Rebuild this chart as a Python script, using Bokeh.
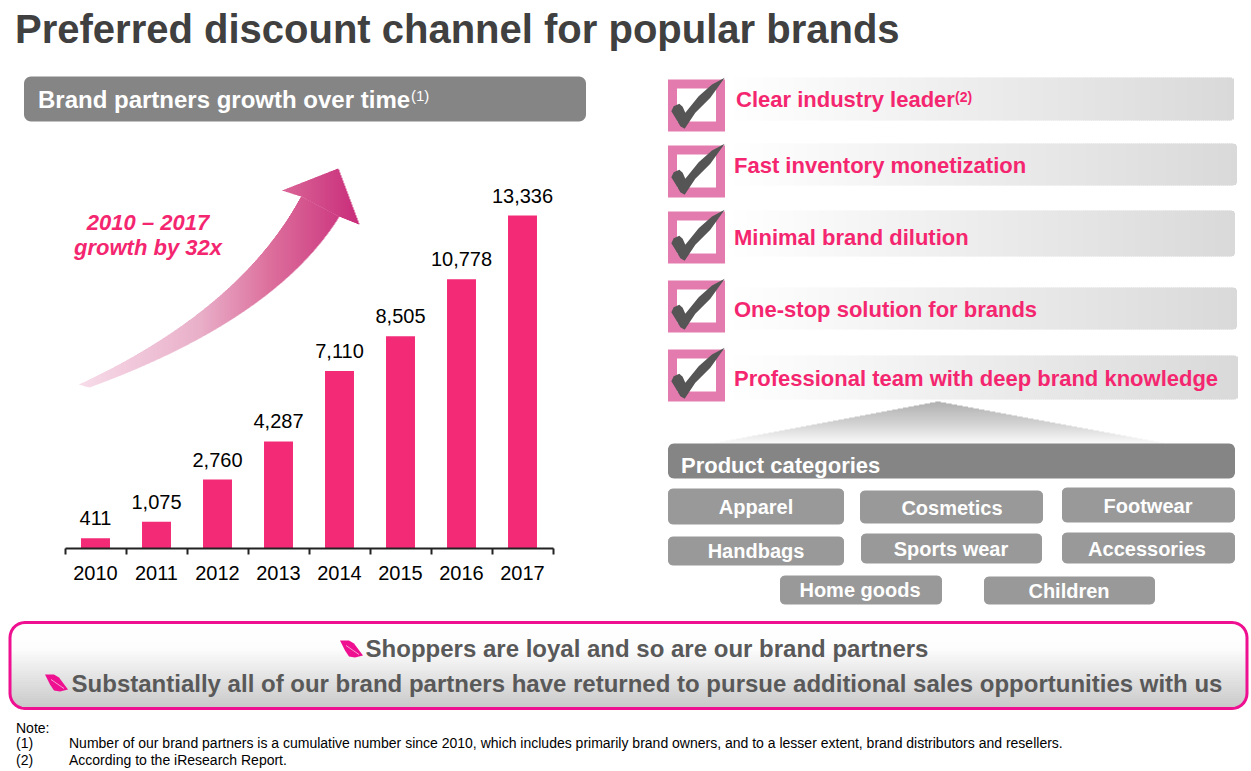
import numpy as np
from bokeh.plotting import figure
from bokeh.layouts import column, row
from bokeh.models import Range1d, LinearAxis, FixedTicker, ColumnDataSource
from bokeh.core.properties import value
from bokeh.embed import file_html
from bokeh.resources import INLINE

# ---- data ----
years = ["2010", "2011", "2012", "2013", "2014", "2015", "2016", "2017"]
partners = [411, 1075, 2760, 4287, 7110, 8505, 10778, 13336]
title_text = "Preferred discount channel for popular brands"
banner_text = "Brand partners growth over time"
growth_lines = ["2010 \u2013 2017", "growth by 32x"]
strengths = ["Clear industry leader", "Fast inventory monetization", "Minimal brand dilution",
             "One-stop solution for brands", "Professional team with deep brand knowledge"]
categories = ["Apparel", "Cosmetics", "Footwear", "Handbags", "Sports wear", "Accessories", "Home goods", "Children"]
callouts = ["Shoppers are loyal and so are our brand partners",
            "Substantially all of our brand partners have returned to pursue additional sales opportunities with us"]
note1 = "Number of our brand partners is a cumulative number since 2010, which includes primarily brand owners, and to a lesser extent, brand distributors and resellers."
note2 = "According to the iResearch Report."

FONT = "Liberation Sans"
PINK = "#F32B76"
TXT_PINK = "#F4266F"
GREY_D = "#858585"
GREY_B = "#999999"
MAG = "#EE1090"
OX, OY = 0.5, 1        # page coordinate at the figure's corner
PW, PH = 1251, 771


def make_fig(w, h, x0, x1, y0, y1, **kw):
    p = figure(width=w, height=h, x_range=Range1d(x0, x1), y_range=Range1d(y1, y0),
               toolbar_location=None, tools="", output_backend="svg",
               x_axis_location=None, y_axis_location=None, frame_align=False,
               min_border=0, min_border_left=0, min_border_right=0, min_border_top=0, min_border_bottom=0, **kw)
    p.outline_line_color = None
    p.grid.visible = False
    return p


def txt(p, x, y, s, size, color, style="normal", align="left", **kw):
    p.text([x], [y], text=[s], text_font=value(FONT), text_font_size=f"{size}px", text_font_style=style,
           text_color=color, text_align=align, text_baseline="middle", **kw)


def rgb(c):
    c = c.lstrip("#")
    return np.array([int(c[i:i + 2], 16) for i in (0, 2, 4)], float)


def ramp(t, stops):
    pos = [s[0] for s in stops]
    cols = np.array([rgb(s[1]) for s in stops])
    out = np.stack([np.interp(t, pos, cols[:, i]) for i in range(3)], axis=1)
    return ["#%02x%02x%02x" % tuple(int(round(v)) for v in c) for c in out]


def rr_pts(x0, y0, x1, y1, r):
    a = np.linspace(0, np.pi / 2, 8)
    xs = np.concatenate([x0 + r - r * np.cos(a), x1 - r + r * np.sin(a), x1 - r + r * np.cos(a), x0 + r - r * np.sin(a)])
    ys = np.concatenate([y0 + r - r * np.sin(a), y0 + r - r * np.cos(a), y1 - r + r * np.sin(a), y1 - r + r * np.cos(a)])
    return xs, ys


def rrect(p, x0, y0, x1, y1, r, fill, line=None, lw=0, **kw):
    xs, ys = rr_pts(x0, y0, x1, y1, r)
    p.patch(xs, ys, fill_color=fill, line_color=line, line_width=lw, **kw)


def grad_h(p, x0, y0, x1, y1, r, stops, step=2):
    e = np.arange(x0, x1, step)
    left, right = e, np.minimum(e + step + 1, x1)
    c = e + step / 2
    d = np.clip(np.minimum(c - x0, x1 - c), 0, r)
    ins = r - np.sqrt(np.maximum(r ** 2 - (r - d) ** 2, 0))
    p.quad(left=left, right=right, top=y0 + ins, bottom=y1 - ins,
           fill_color=ramp((c - x0) / (x1 - x0), stops), line_color=None)


def grad_v(p, x0, y0, x1, y1, r, stops, step=1):
    e = np.arange(y0, y1, step)
    top, bot = e, np.minimum(e + step + 1, y1)
    c = e + step / 2
    d = np.clip(np.minimum(c - y0, y1 - c), 0, r)
    ins = r - np.sqrt(np.maximum(r ** 2 - (r - d) ** 2, 0))
    p.quad(left=x0 + ins, right=x1 - ins, top=top, bottom=bot,
           fill_color=ramp((c - y0) / (y1 - y0), stops), line_color=None)


def bez(p0, p1, p2):
    t = np.linspace(0, 1, 60)
    return ((1 - t) ** 2 * p0[0] + 2 * t * (1 - t) * p1[0] + t ** 2 * p2[0],
            (1 - t) ** 2 * p0[1] + 2 * t * (1 - t) * p1[1] + t ** 2 * p2[1])


# ---- title ----
top = make_fig(PW, 60, OX, OX + PW, OY, OY + 60)
txt(top, 15, 29, title_text, 40, "#404040", "bold")

# ---- left: bar chart on real scales ----
FL, FR, FT, FB = OX, OX + 640, OY + 60, 549  # frame on the page
X0, X8 = 65, 553                             # axis ends on the page
Y0, YT = 549, 216                            # baseline and top bar on the page
ux = (X8 - X0) / len(years)
uy = (Y0 - YT) / max(partners)
left = figure(width=640, height=550,
              x_range=Range1d((FL - X0) / ux, (FR - X0) / ux),
              y_range=Range1d(0, (Y0 - FT) / uy),
              toolbar_location=None, tools="", output_backend="svg",
              x_axis_location=None, y_axis_location=None, frame_align=False,
              min_border=0, min_border_left=0, min_border_right=0, min_border_top=0, min_border_bottom=62)
left.outline_line_color = None
left.grid.visible = False
left.extra_x_ranges = {"px": Range1d(FL, FR)}
left.extra_y_ranges = {"py": Range1d(FB, FT)}
PXK = dict(x_range_name="px", y_range_name="py")

rrect(left, 24, 77, 586, 122, 7, GREY_D, **PXK)
txt(left, 38, 100, banner_text, 24, "#FFFFFF", "bold", **PXK)
txt(left, 411, 96, "(1)", 15, "#FFFFFF", **PXK)
txt(left, 148, 223, growth_lines[0], 22, TXT_PINK, "bold italic", "center", **PXK)
txt(left, 148, 248, growth_lines[1], 22, TXT_PINK, "bold italic", "center", **PXK)

# curved gradient arrow
arrow_stops = [(79, "#F7DCE9"), (200, "#E9AFC9"), (270, "#DC6F9C"), (359, "#C92C7A")]
up_x, up_y = bez((79, 385), (240, 310), (301, 197))
lo_x, lo_y = bez((89, 388), (275, 320), (339, 217))
up_x = np.append(up_x, 339); up_y = np.append(up_y, 217)
lo_x = np.insert(lo_x, 0, 79); lo_y = np.insert(lo_y, 0, 385)
cx = np.arange(79, 339)
left.quad(left=cx, right=cx + 1.5, top=np.interp(cx + .5, up_x, up_y), bottom=np.interp(cx + .5, lo_x, lo_y),
          fill_color=ramp(cx + .5, arrow_stops), line_color=None, **PXK)
hx = np.arange(282, 359)
left.quad(left=hx, right=hx + 1.5, top=np.interp(hx + .5, [282, 338, 359], [191, 169, 225]),
          bottom=np.interp(hx + .5, [282, 301, 339, 359], [191, 197, 217, 225]),
          fill_color=ramp(hx + .5, arrow_stops), line_color=None, **PXK)

# bars, values, axis
src = ColumnDataSource(dict(x=[i + 0.5 for i in range(len(years))], v=partners,
                            lab=[f"{v:,}" for v in partners]))
left.vbar(x="x", top="v", bottom=0, width=0.475, source=src, fill_color=PINK, line_color=None)
left.text(x="x", y="v", text="lab", source=src, text_font=value(FONT), text_font_size="20px",
          text_color="#000000", text_align="center", text_baseline="middle", y_offset=-20)
ax = LinearAxis(ticker=FixedTicker(ticks=src.data["x"], minor_ticks=list(range(len(years) + 1))),
                major_label_overrides={i + 0.5: y for i, y in enumerate(years)})
ax.bounds = (0, len(years))
ax.axis_line_color = "#222222"
ax.axis_line_width = 2
ax.major_tick_line_color = None
ax.major_tick_in = 0
ax.major_tick_out = 6
ax.minor_tick_line_color = "#222222"
ax.minor_tick_line_width = 2
ax.minor_tick_in = 0
ax.minor_tick_out = 6
ax.major_label_text_font = FONT
ax.major_label_text_font_size = "20px"
ax.major_label_text_color = "#000000"
ax.major_label_standoff = 11
left.add_layout(ax, "below")

# ---- right ----
right = make_fig(PW - 640, 550, OX + 640, OX + PW, OY + 60, OY + 610)
bars_y = [(78, 121, 1234), (144, 186, 1237), (211, 257, 1235), (288, 330, 1237), (356, 400, 1238)]
boxes_y = [80, 146, 212, 281, 350]
text_x = [736, 734, 734, 734, 734]
text_y = [100, 166, 238, 310, 379]
check_z = [(208, 25), (165, 85), (120, 130), (88, 178), (75, 170), (60, 145), (48, 125), (55, 110), (72, 103),
           (82, 112), (90, 130), (130, 80), (170, 45)]
for i, s in enumerate(strengths):
    y0, y1, xr = bars_y[i]
    grad_h(right, 725, y0, xr, y1, 5, [(0, "#FFFFFF"), (0.12, "#FBFBFB"), (1, "#D9D9D9")])
    by = boxes_y[i]
    right.quad(left=[668], right=[725], top=[by], bottom=[by + 52], fill_color="#E47BAE", line_color=None)
    right.quad(left=[677], right=[716], top=[by + 9], bottom=[by + 42], fill_color="#FFFFFF", line_color=None)
    right.patch([668 + (a - 38) / 3 for a, b in check_z], [by + (b - 30) / 3 for a, b in check_z],
                fill_color="#555555", line_color=None)
    txt(right, text_x[i], text_y[i], s, 22, TXT_PINK, "bold")
txt(right, 955, 97, "(2)", 14, TXT_PINK, "bold")

# funnel
fy = np.arange(402, 444)
grad_t = (fy + .5 - 402) / 42
right.quad(left=938 - (938 - 712) * grad_t, right=938 + (1167 - 938) * grad_t, top=fy, bottom=fy + 1.5,
           fill_color=ramp(grad_t, [(0, "#B0B0B0"), (0.5, "#D0D0D0"), (1, "#FAFAFA")]), line_color=None)

rrect(right, 668, 444, 1235, 479, 6, GREY_D)
txt(right, 681, 466, "Product categories", 22, "#FFFFFF", "bold")

cat_x0 = [668, 860, 1062, 668, 861, 1062, 780, 984]
cat_x1 = [844, 1043, 1235, 844, 1042, 1235, 942, 1155]
cat_y0 = [489, 491, 488, 537, 534, 533, 576, 577]
cat_y1 = [525, 524, 523, 566, 564, 564, 605, 605]
cat_tx = [756, 952, 1148, 756, 951, 1147, 860, 1069]
cat_ty = [507, 508, 506, 551, 549, 549, 590, 591]
for i, c in enumerate(categories):
    rrect(right, cat_x0[i], cat_y0[i], cat_x1[i], cat_y1[i], 5, GREY_B)
    txt(right, cat_tx[i], cat_ty[i], c, 20, "#FFFFFF", "bold", "center")

# ---- bottom ----
bottom = make_fig(PW, PH - 610, OX, OX + PW, OY + 610, OY + PH)
grad_v(bottom, 10, 623, 1247, 709, 15, [(0, "#FFFFFF"), (0.3, "#FDFDFD"), (1, "#C8C8C8")])
bx, by_ = rr_pts(10, 623, 1247, 709, 15)
bottom.patch(bx, by_, fill_color=None, line_color=MAG, line_width=3)
leaf = [(0, 0), (9, 0), (14, 3), (23, 15), (15, 17), (9, 16), (5, 10)]
for lx, ly in [(340, 641), (45, 675)]:
    bottom.patch([lx + a for a, b in leaf], [ly + b for a, b in leaf], fill_color=MAG, line_color=None)
    bottom.line([lx + 6, lx + 19], [ly + 5, ly + 14], line_color="#F8A0D0", line_width=1)
txt(bottom, 647, 649, callouts[0], 24, "#595959", "bold", "center")
txt(bottom, 647, 684, callouts[1], 24, "#595959", "bold", "center")
txt(bottom, 16, 728, "Note:", 14, "#000000")
txt(bottom, 16, 743, "(1)", 14, "#000000")
txt(bottom, 69, 743, note1, 14, "#000000")
txt(bottom, 16, 760, "(2)", 14, "#000000")
txt(bottom, 69, 760, note2, 14, "#000000")

page = column(top, row(left, right), bottom)
open("out.html", "w").write(file_html(page, INLINE))
